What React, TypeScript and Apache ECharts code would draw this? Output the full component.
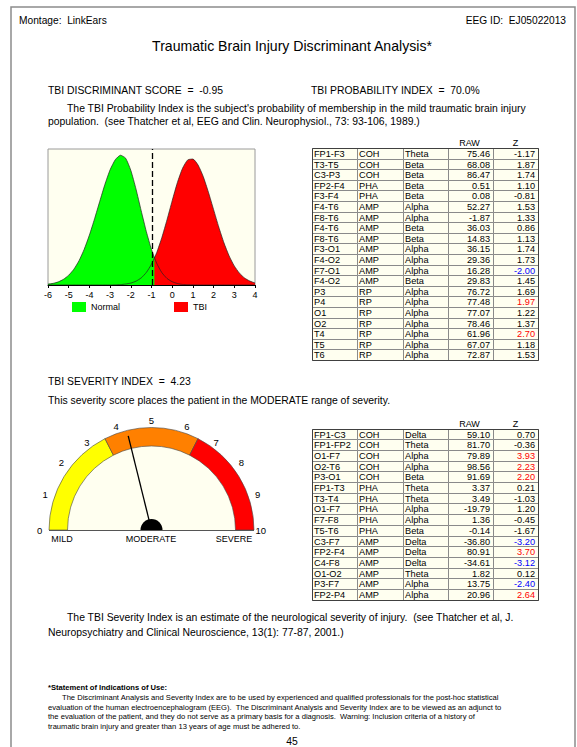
import React, { useEffect, useRef } from "react";
import * as echarts from "echarts";

const FONT = "'Liberation Sans', Arial, Helvetica, sans-serif";

// ---------- Discriminant distributions ----------
const curveX = [
  -6, -5.75, -5.5, -5.25, -5, -4.75, -4.5, -4.25, -4, -3.75, -3.5, -3.25, -3, -2.75, -2.5, -2.25,
  -2, -1.75, -1.5, -1.25, -1, -0.75, -0.5, -0.25, 0, 0.25, 0.5, 0.75, 1, 1.25, 1.5, 1.75, 2, 2.25,
  2.5, 2.75, 3, 3.25, 3.5, 3.75, 4,
];
const normalY = [
  0.006, 0.012, 0.023, 0.042, 0.072, 0.116, 0.179, 0.263, 0.367, 0.487, 0.615, 0.74, 0.847, 0.921,
  0.954, 0.932, 0.843, 0.706, 0.547, 0.393, 0.261, 0.16, 0.091, 0.048, 0.024, 0.011, 0.004, 0.002,
  0.001, 0, 0, 0, 0, 0, 0, 0, 0, 0, 0, 0, 0,
];
const tbiY = [
  0, 0, 0, 0, 0, 0, 0, 0, 0, 0, 0, 0, 0, 0.001, 0.003, 0.007, 0.014, 0.028, 0.052, 0.092, 0.153,
  0.238, 0.349, 0.48, 0.62, 0.753, 0.858, 0.92, 0.926, 0.882, 0.797, 0.682, 0.554, 0.426, 0.31,
  0.214, 0.14, 0.087, 0.051, 0.029, 0.015,
];
const crossingX = -0.86;
const crossingY = 0.2;
const discriminantScore = -0.95;
const probabilityIndex = 70.0;

// ---------- Severity ----------
const severityIndex = 4.23;
const severityBandNames = ["MILD", "MODERATE", "SEVERE"];
const severityBandSizes = [3.5, 3, 3.5];
const severityBandColors = ["#FFFF00", "#FF8000", "#FF0000"];

// ---------- Discriminant table ----------
const topSites = ["FP1-F3", "T3-T5", "C3-P3", "FP2-F4", "F3-F4", "F4-T6", "F8-T6", "F4-T6", "F8-T6", "F3-O1", "F4-O2", "F7-O1", "F4-O2", "P3", "P4", "O1", "O2", "T4", "T5", "T6"];
const topMeasures = ["COH", "COH", "COH", "PHA", "PHA", "AMP", "AMP", "AMP", "AMP", "AMP", "AMP", "AMP", "AMP", "RP", "RP", "RP", "RP", "RP", "RP", "RP"];
const topBands = ["Theta", "Beta", "Beta", "Beta", "Beta", "Alpha", "Alpha", "Beta", "Beta", "Alpha", "Alpha", "Alpha", "Beta", "Alpha", "Alpha", "Alpha", "Alpha", "Alpha", "Alpha", "Alpha"];
const topRaw = [75.46, 68.08, 86.47, 0.51, 0.08, 52.27, -1.87, 36.03, 14.83, 36.15, 29.36, 16.28, 29.83, 76.72, 77.48, 77.07, 78.46, 61.96, 67.07, 72.87];
const topZ = [-1.17, 1.87, 1.74, 1.1, -0.81, 1.53, 1.33, 0.86, 1.13, 1.74, 1.73, -2.0, 1.45, 1.69, 1.97, 1.22, 1.37, 2.7, 1.18, 1.53];

// ---------- Severity table ----------
const botSites = ["FP1-C3", "FP1-FP2", "O1-F7", "O2-T6", "P3-O1", "FP1-T3", "T3-T4", "O1-F7", "F7-F8", "T5-T6", "C3-F7", "FP2-F4", "C4-F8", "O1-O2", "P3-F7", "FP2-P4"];
const botMeasures = ["COH", "COH", "COH", "COH", "COH", "PHA", "PHA", "PHA", "PHA", "PHA", "AMP", "AMP", "AMP", "AMP", "AMP", "AMP"];
const botBands = ["Delta", "Theta", "Alpha", "Alpha", "Beta", "Theta", "Theta", "Alpha", "Alpha", "Beta", "Delta", "Delta", "Delta", "Theta", "Alpha", "Alpha"];
const botRaw = [59.1, 81.7, 79.89, 98.56, 91.69, 3.37, 3.49, -19.79, 1.36, -0.14, -36.8, 80.91, -34.61, 1.82, 13.75, 20.96];
const botZ = [0.7, -0.36, 3.93, 2.23, 2.2, 0.21, -1.03, 1.2, -0.45, -1.67, -3.2, 3.7, -3.12, 0.12, -2.4, 2.64];

const NB = "\u00a0";
const BODY = 10.4;
const NOTE = 7.6;

function txt(x: number, y: number, text: string, o: any = {}) {
  return {
    type: "text",
    x,
    y,
    silent: true,
    z: 20,
    style: {
      text,
      fill: o.color || "#000",
      fontSize: o.size || BODY,
      fontFamily: FONT,
      fontWeight: o.weight || "normal",
      textAlign: o.align || "left",
      textVerticalAlign: "middle",
    },
  };
}

function rect(x: number, y: number, w: number, h: number, fill: string, stroke: string, lw = 1) {
  return {
    type: "rect",
    silent: true,
    z: 15,
    shape: { x, y, width: w, height: h },
    style: { fill, stroke, lineWidth: lw },
  };
}

const colX = [312, 357, 403, 448, 493, 538];

function zColor(z: number) {
  if (z >= 1.96) return "#FF0000";
  if (z <= -1.96) return "#0000FF";
  return "#000";
}

function table(top: number, rowH: number, headerY: number, sites: string[], meas: string[], bands: string[], raw: number[], zs: number[]) {
  const els: any[] = [];
  els.push(txt((colX[3] + colX[4]) / 2 - 1, headerY, "RAW", { size: 9, align: "center" }));
  els.push(txt((colX[4] + colX[5]) / 2, headerY, "Z", { size: 9, align: "center" }));
  sites.forEach((s, i) => {
    const y = Math.round(top + i * rowH) + 0.5;
    const y2 = Math.round(top + (i + 1) * rowH) + 0.5;
    for (let c = 0; c < 5; c++) {
      els.push(rect(colX[c] + 0.5, y, colX[c + 1] - colX[c], y2 - y, "#FFFFF0", "#8a8a8a", 1));
    }
    const cy = (y + y2) / 2;
    els.push(txt(colX[0] + 2, cy, s, { size: 9.2 }));
    els.push(txt(colX[1] + 2, cy, meas[i], { size: 9.2 }));
    els.push(txt(colX[2] + 2, cy, bands[i], { size: 9.2 }));
    els.push(txt(colX[4] - 3, cy, raw[i].toFixed(2), { size: 9.2, align: "right" }));
    els.push(txt(colX[5] - 3, cy, zs[i].toFixed(2), { size: 9.2, align: "right", color: zColor(zs[i]) }));
  });
  const yb = Math.round(top + sites.length * rowH) + 0.5;
  els.push({ ...rect(colX[0] + 0.5, Math.round(top) + 0.5, colX[5] - colX[0], yb - Math.round(top) - 0.5, "none", "#404040", 1), z: 16 });
  return els;
}

function buildOption() {
  const normalData = curveX.map((x, i) => [x, normalY[i]]);
  const tbiData = curveX.map((x, i) => [x, tbiY[i]]);
  const tbiRight = [[crossingX, crossingY], ...tbiData.filter((p) => p[0] > crossingX)];

  const gcx = 151.5;
  const gcy = 530;
  const gR = 102.5;
  const gr = 84;

  const graphics: any[] = [
    { type: "rect", silent: true, z: 1, shape: { x: 11, y: 7, width: 564, height: 760 }, style: { fill: "none", stroke: "#8c8c8c", lineWidth: 1.5 } },
    txt(19, 20, `Montage:${NB}${NB}LinkEars`, { size: 10.2 }),
    txt(566, 20, `EEG ID:${NB}${NB}EJ05022013`, { size: 10.2, align: "right" }),
    txt(292, 46, "Traumatic Brain Injury Discriminant Analysis*", { size: 14.1, align: "center" }),
    txt(48, 90, `TBI DISCRIMINANT SCORE${NB}${NB}=${NB}${NB}${discriminantScore.toFixed(2)}`),
    txt(311, 90, `TBI PROBABILITY INDEX${NB}${NB}=${NB}${NB}${probabilityIndex.toFixed(1)}%`),
    txt(67, 108, "The TBI Probability Index is the subject's probability of membership in the mild traumatic brain injury"),
    txt(48, 121, `population.${NB}${NB}(see Thatcher et al, EEG and Clin. Neurophysiol., 73: 93-106, 1989.)`),
    txt(48, 381, `TBI SEVERITY INDEX${NB}${NB}=${NB}${NB}${severityIndex.toFixed(2)}`),
    txt(48, 400, "This severity score places the patient in the MODERATE range of severity."),
    txt(67, 617, `The TBI Severity Index is an estimate of the neurological severity of injury.${NB}${NB}(see Thatcher et al, J.`),
    txt(48, 632, "Neuropsychiatry and Clinical Neuroscience, 13(1): 77-87, 2001.)"),
    txt(48, 687, "*Statement of Indications of Use:", { size: NOTE, weight: "bold" }),
    txt(62, 697, "The Discriminant Analysis and Severity Index are to be used by experienced and qualified professionals for the post-hoc statistical", { size: NOTE }),
    txt(48, 707, `evaluation of the human electroencephalogram (EEG).${NB}${NB}The Discriminant Analysis and Severity Index are to be viewed as an adjunct to`, { size: NOTE }),
    txt(48, 716.5, `the evaluation of the patient, and they do not serve as a primary basis for a diagnosis.${NB}${NB}Warning: Inclusion criteria of a history of`, { size: NOTE }),
    txt(48, 726, "traumatic brain injury and greater than 13 years of age must be adhered to.", { size: NOTE }),
    txt(292, 741, "45", { size: 10.4, align: "center" }),
    // gauge baseline and hub
    { type: "line", silent: true, z: 30, shape: { x1: gcx - gR, y1: gcy + 0.5, x2: gcx + gR, y2: gcy + 0.5 }, style: { stroke: "#555", lineWidth: 1.2 } },
    { type: "sector", silent: true, z: 40, shape: { cx: gcx, cy: gcy, r: 11, r0: 0, startAngle: Math.PI, endAngle: 2 * Math.PI }, style: { fill: "#000" } },
    txt(62, 539, severityBandNames[0], { size: 9, align: "center" }),
    txt(151, 539, severityBandNames[1], { size: 9, align: "center" }),
    txt(234, 539, severityBandNames[2], { size: 9, align: "center" }),
    ...table(148, 10.6, 143, topSites, topMeasures, topBands, topRaw, topZ),
    ...table(428.5, 10.7, 424, botSites, botMeasures, botBands, botRaw, botZ),
  ];

  const bandData = severityBandSizes.map((v, i) => ({
    value: v,
    itemStyle: { color: severityBandColors[i], borderColor: "#444", borderWidth: 0.6 },
  }));
  const total = severityBandSizes.reduce((a, b) => a + b, 0);
  bandData.push({ value: total, itemStyle: { color: "rgba(0,0,0,0)", borderColor: "rgba(0,0,0,0)", borderWidth: 0 } } as any);

  return {
    animation: false,
    backgroundColor: "#ffffff",
    textStyle: { fontFamily: FONT },
    grid: {
      left: 48,
      top: 149,
      width: 207,
      height: 136,
      show: true,
      backgroundColor: "#FFFFF0",
      borderColor: "#9a9a9a",
      borderWidth: 1,
    },
    xAxis: {
      type: "value",
      min: -6,
      max: 4,
      interval: 1,
      axisLine: { show: true, onZero: false, lineStyle: { color: "#000", width: 1 } },
      axisTick: { show: true, length: 3, lineStyle: { color: "#000" } },
      axisLabel: { color: "#000", fontSize: 9, margin: 5, fontFamily: FONT },
      splitLine: { show: false },
    },
    yAxis: { type: "value", min: 0, max: 1, show: false },
    legend: {
      left: 72,
      top: 302,
      padding: 0,
      itemWidth: 14,
      itemHeight: 10,
      itemGap: 54,
      icon: "rect",
      data: ["Normal", "TBI"],
      textStyle: { fontSize: 9, color: "#000", fontFamily: FONT },
      selectedMode: false,
    },
    series: [
      {
        name: "Normal",
        type: "line",
        data: normalData,
        symbol: "none",
        smooth: 0.2,
        lineStyle: { width: 0 },
        itemStyle: { color: "#00FF00" },
        areaStyle: { color: "#00FF00", opacity: 1 },
        silent: true,
        z: 2,
      },
      {
        name: "TBI",
        type: "line",
        data: tbiRight,
        symbol: "none",
        smooth: 0.2,
        lineStyle: { width: 0 },
        itemStyle: { color: "#FF0000" },
        areaStyle: { color: "#FF0000", opacity: 1 },
        silent: true,
        z: 3,
      },
      {
        name: "normalOutline",
        type: "line",
        data: normalData,
        symbol: "none",
        smooth: 0.2,
        lineStyle: { width: 0.7, color: "#222" },
        silent: true,
        z: 4,
      },
      {
        name: "tbiOutline",
        type: "line",
        data: tbiData,
        symbol: "none",
        smooth: 0.2,
        lineStyle: { width: 0.7, color: "#222" },
        silent: true,
        z: 4,
        markLine: {
          silent: true,
          symbol: "none",
          label: { show: false },
          lineStyle: { color: "#000", type: [6, 3], width: 1.3 },
          data: [{ xAxis: discriminantScore }],
        },
      },
      {
        type: "pie",
        center: [gcx, gcy],
        radius: [0, gr],
        startAngle: 180,
        silent: true,
        label: { show: false },
        labelLine: { show: false },
        data: [
          { value: 1, itemStyle: { color: "#FFFFF0" } },
          { value: 1, itemStyle: { color: "rgba(0,0,0,0)" } },
        ],
        z: 5,
      },
      {
        type: "pie",
        center: [gcx, gcy],
        radius: [gr, gR],
        startAngle: 180,
        clockwise: true,
        silent: true,
        label: { show: false },
        labelLine: { show: false },
        data: bandData,
        z: 6,
      },
      {
        type: "gauge",
        center: [gcx, gcy],
        radius: gR,
        startAngle: 180,
        endAngle: 0,
        min: 0,
        max: 10,
        splitNumber: 10,
        silent: true,
        axisLine: { show: false, lineStyle: { width: 0 } },
        splitLine: { show: false },
        axisTick: { show: false },
        axisLabel: { distance: -32, color: "#000", fontSize: 9.5, fontFamily: FONT },
        pointer: { icon: "rect", length: 97, width: 1.3, itemStyle: { color: "#000" } },
        anchor: { show: false },
        title: { show: false },
        detail: { show: false },
        data: [{ value: severityIndex }],
        z: 8,
      },
    ],
    graphic: { elements: graphics },
  };
}

export default function App() {
  const ref = useRef<HTMLDivElement>(null);
  useEffect(() => {
    const chart = echarts.init(ref.current!, null, { renderer: "svg" });
    chart.setOption(buildOption() as any);
    return () => chart.dispose();
  }, []);
  return (
    <div
      ref={ref}
      style={{ position: "absolute", left: 0, top: 0, width: 577, height: 747, background: "#fff" }}
    />
  );
}
